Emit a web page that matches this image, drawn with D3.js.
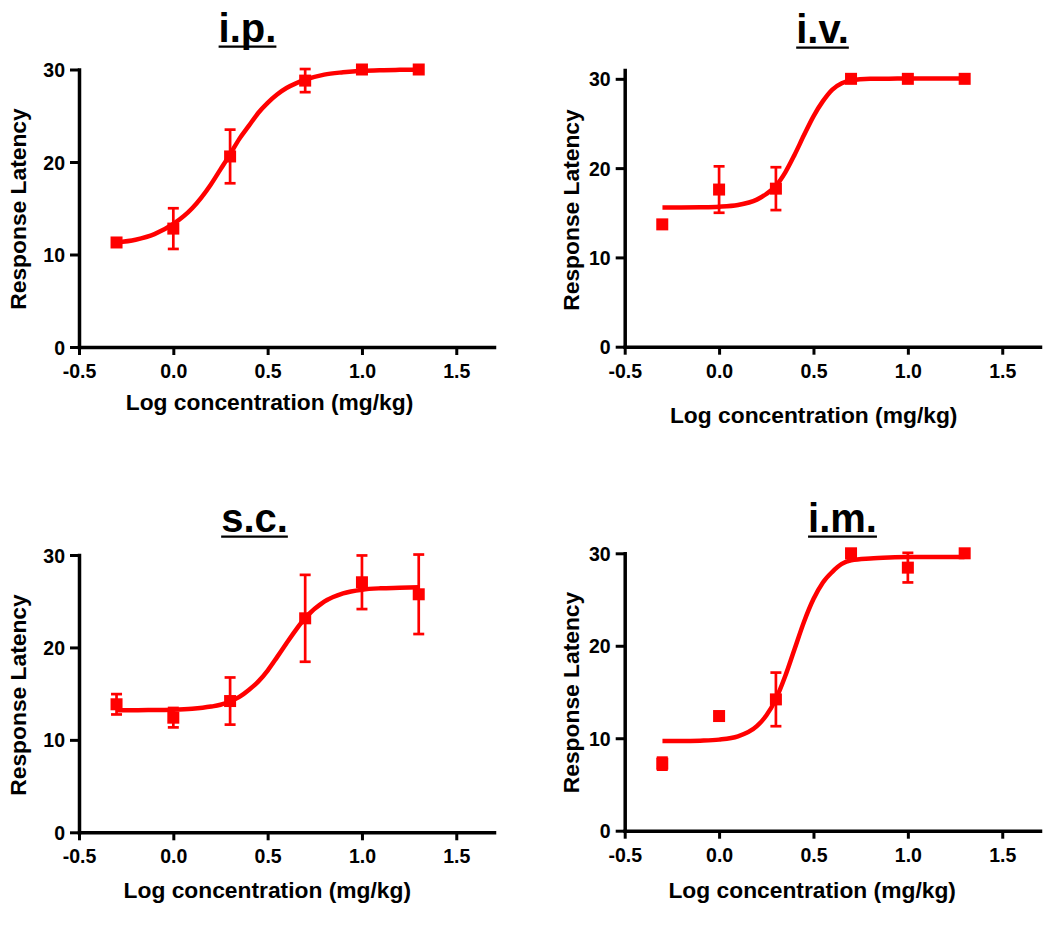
<!DOCTYPE html>
<html>
<head>
<meta charset="utf-8">
<script src="https://cdn.jsdelivr.net/npm/d3@7"></script>
<style>
  html, body { margin: 0; padding: 0; background: #ffffff; }
  svg { display: block; font-family: "Liberation Sans", Arial, Helvetica, sans-serif; }
</style>
</head>
<body>
<svg id="chart" width="1050" height="926"></svg>
<script>
// ---------------- DATA ----------------
const routes = ["i.p.", "i.v.", "s.c.", "i.m."];
const xTickValues = [-0.5, 0.0, 0.5, 1.0, 1.5];
const yTickValues = [0, 10, 20, 30];
const xLabel = "Log concentration (mg/kg)";
const yLabel = "Response Latency";

// log10 doses (0.5, 1, 2, 5, 10, 20 mg/kg)
const doseLog = [-0.301, 0.0, 0.301, 0.699, 1.0, 1.301];

const ipMean = [11.3, 12.8, 20.6, 28.8, 30.0, 30.0];
const ipErr  = [0, 2.2, 2.9, 1.25, 0, 0];
const ivMean = [13.7, 17.6, 17.7, 30.0, 30.0, 30.0];
const ivErr  = [0, 2.6, 2.4, 0, 0, 0];
const scMean = [13.85, 12.4, 14.2, 23.15, 27.05, 25.75];
const scErr  = [1.1, 1.05, 2.55, 4.7, 2.9, 4.3];
const imMean = [7.25, 12.4, 14.2, 30.0, 28.45, 30.0];
const imErr  = [0.65, 0, 2.9, 0, 1.6, 0];

// fitted-curve points
const fitX  = [-0.3, -0.2, -0.1, 0.0, 0.1, 0.2, 0.25, 0.3, 0.35, 0.4, 0.45, 0.5, 0.55, 0.6, 0.65, 0.7, 0.8, 0.9, 1.0, 1.1, 1.2, 1.3];
const ipFit = [11.3, 11.6, 12.2, 13.3, 15.0, 17.6, 19.2, 20.8, 22.5, 23.9, 25.3, 26.4, 27.3, 28.0, 28.5, 28.9, 29.45, 29.7, 29.86, 29.93, 29.96, 29.98];
const ivFit = [15.6, 15.6, 15.62, 15.68, 15.87, 16.47, 17.1, 18.0, 19.5, 21.5, 23.7, 25.8, 27.5, 28.8, 29.5, 29.85, 30.0, 30.02, 30.03, 30.03, 30.03, 30.03];
const scFit = [13.2, 13.2, 13.23, 13.26, 13.36, 13.6, 13.8, 14.15, 14.65, 15.4, 16.3, 17.5, 18.95, 20.45, 21.9, 23.2, 24.95, 25.85, 26.25, 26.4, 26.45, 26.5];
const imFit = [9.7, 9.7, 9.74, 9.85, 10.2, 11.3, 12.45, 14.2, 16.7, 19.65, 22.6, 25.05, 26.85, 28.0, 28.85, 29.25, 29.45, 29.55, 29.6, 29.6, 29.6, 29.6];

const xDomain = [-0.5, 1.7];
const yMaxes = [30, 31, 30, 30];

// ---------------- LAYOUT (positions / sizes) ----------------
const layout = [
  { left: 79,    right: 494,  bottom: 347,   top: 69.5, titleX: 247.5, titleY: 41.7,  xTitleX: 269.5, xTitleY: 409.5, yTitleX: 26,  yTitleY: 209 },
  { left: 624.7, right: 1040, bottom: 346.7, top: 69.9, titleX: 822.5, titleY: 42.7,  xTitleX: 813.7, xTitleY: 422.7, yTitleX: 579, yTitleY: 210 },
  { left: 79,    right: 494,  bottom: 832.3, top: 555,  titleX: 254.5, titleY: 531.7, xTitleX: 267.3, xTitleY: 898.3, yTitleX: 26,  yTitleY: 695 },
  { left: 624.7, right: 1040, bottom: 830.7, top: 553.3, titleX: 842.5, titleY: 531.7, xTitleX: 812.2, xTitleY: 898.3, yTitleX: 579, yTitleY: 692.5 }
];

const RED = "#ff0000";
const means = [ipMean, ivMean, scMean, imMean];
const errs = [ipErr, ivErr, scErr, imErr];
const fits = [ipFit, ivFit, scFit, imFit];

const svg = d3.select("#chart");

routes.forEach((route, i) => {
  const L = layout[i];
  const x = d3.scaleLinear().domain(xDomain).range([L.left, L.right]);
  const y = d3.scaleLinear().domain([0, yMaxes[i]]).range([L.bottom, L.top]);
  const g = svg.append("g");

  // axes
  const xAxis = d3.axisBottom(x).tickValues(xTickValues).tickFormat(d => d.toFixed(1)).tickSize(8).tickSizeOuter(0);
  const yAxis = d3.axisLeft(y).tickValues(yTickValues).tickFormat(d => String(d)).tickSize(9).tickSizeOuter(0);

  const gx = g.append("g").attr("transform", `translate(0,${L.bottom})`).call(xAxis);
  const gy = g.append("g").attr("transform", `translate(${L.left},0)`).call(yAxis);

  [gx, gy].forEach(ax => {
    ax.select(".domain").attr("stroke", "#000").attr("stroke-width", 3.5).attr("stroke-linecap", "square");
    ax.selectAll(".tick line").attr("stroke", "#000").attr("stroke-width", 3);
    ax.selectAll(".tick text")
      .attr("fill", "#000")
      .style("font-family", "'Liberation Sans', Arial, Helvetica, sans-serif")
      .style("font-size", "19.5px")
      .style("font-weight", "bold");
  });
  gx.selectAll(".tick text").attr("y", 17).attr("dy", "0.71em");
  gy.selectAll(".tick text").attr("x", -14).attr("dy", "0.36em");

  // axis titles
  g.append("text")
    .attr("x", L.xTitleX).attr("y", L.xTitleY)
    .attr("text-anchor", "middle")
    .style("font-size", "22.8px").style("font-weight", "bold")
    .text(xLabel);

  g.append("text")
    .attr("transform", `translate(${L.yTitleX},${L.yTitleY}) rotate(-90)`)
    .attr("text-anchor", "middle")
    .style("font-size", "22.8px").style("font-weight", "bold")
    .text(yLabel);

  // panel title, underlined
  const t = g.append("text")
    .attr("x", L.titleX).attr("y", L.titleY)
    .attr("text-anchor", "middle")
    .style("font-size", "40px").style("font-weight", "bold")
    .text(route);
  const w = t.node().getComputedTextLength();
  g.append("line")
    .attr("x1", L.titleX - w / 2).attr("x2", L.titleX + w / 2)
    .attr("y1", L.titleY + 5).attr("y2", L.titleY + 5)
    .attr("stroke", "#000").attr("stroke-width", 2.2);

  // fitted curve
  const fitData = fitX.map((v, k) => ({ x: v, y: fits[i][k] }));
  g.append("path")
    .datum(fitData)
    .attr("fill", "none")
    .attr("stroke", RED)
    .attr("stroke-width", 4.5)
    .attr("d", d3.line().x(d => x(d.x)).y(d => y(d.y)).curve(d3.curveMonotoneX));

  // error bars
  const pts = doseLog.map((v, k) => ({ x: v, y: means[i][k], e: errs[i][k] }));
  const eb = g.append("g").attr("stroke", RED).attr("stroke-width", 2.7).attr("fill", "none");
  pts.filter(d => d.e > 0).forEach(d => {
    const cx = x(d.x);
    eb.append("line").attr("x1", cx).attr("x2", cx).attr("y1", y(d.y - d.e)).attr("y2", y(d.y + d.e));
    eb.append("line").attr("x1", cx - 5.5).attr("x2", cx + 5.5).attr("y1", y(d.y - d.e)).attr("y2", y(d.y - d.e));
    eb.append("line").attr("x1", cx - 5.5).attr("x2", cx + 5.5).attr("y1", y(d.y + d.e)).attr("y2", y(d.y + d.e));
  });

  // markers
  const ms = 12;
  g.append("g").selectAll("rect")
    .data(pts)
    .join("rect")
    .attr("x", d => x(d.x) - ms / 2)
    .attr("y", d => y(d.y) - ms / 2)
    .attr("width", ms).attr("height", ms)
    .attr("fill", RED);
});
</script>
</body>
</html>
